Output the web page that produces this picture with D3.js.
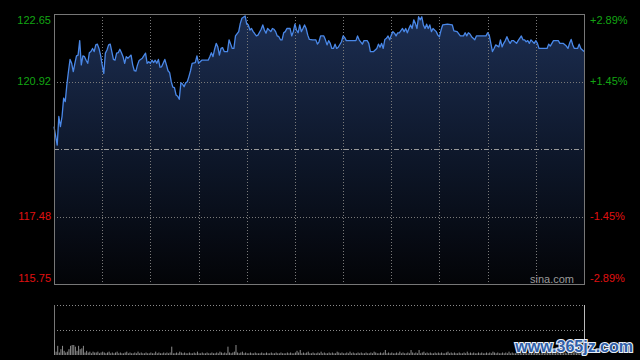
<!DOCTYPE html>
<html><head><meta charset="utf-8">
<script src="https://cdn.jsdelivr.net/npm/d3@7/dist/d3.min.js"></script>
<style>html,body{margin:0;padding:0;background:#000;}svg{display:block;}</style>
</head><body>
<svg id="c" width="640" height="360"></svg>
<script>
// ---- data ----
const prevClose = 119.20;
const priceTicks = [122.65, 120.925, 117.475, 115.75];
const priceTickLabels = ["122.65", "120.92", "117.48", "115.75"];
const pctTickLabels = ["+2.89%", "+1.45%", "-1.45%", "-2.89%"];
const sessionMinutes = 330; // HK trading day, 11 half-hours
const gridMinutes = [30, 60, 90, 120, 150, 180, 210, 240, 270, 300];
// [minute, price]
const ticks = [
[0,119.77],[2,119.30],[3,120.03],[4,119.77],[5,120.03],[6,120.50],[7,120.41],[8,120.84],[9,121.18],[10,121.49],
[11,121.39],[12,121.18],[13,121.39],[14,121.58],[15,121.60],[16,121.97],[17,121.35],[18,121.58],[19,121.56],[20,121.47],
[21,121.39],[22,121.66],[23,121.69],[24,121.77],[25,121.69],[26,121.86],[27,121.88],[28,121.77],[29,121.60],[30,121.35],
[31,121.13],[32,121.65],[33,121.73],[34,121.86],[35,121.88],[36,121.69],[37,121.49],[38,121.47],[39,121.65],[40,121.66],
[41,121.75],[42,121.66],[43,121.56],[44,121.39],[45,121.56],[46,121.52],[47,121.56],[48,121.60],[49,121.35],[50,121.20],
[51,121.19],[52,121.35],[53,121.46],[55,121.52],[57,121.65],
[58,121.39],[59,121.43],[60,121.39],[61,121.47],[62,121.41],[63,121.47],[64,121.39],[65,121.49],[66,121.29],[67,121.30],
[69,121.49],[70,121.35],[71,121.20],[72,121.15],[73,120.92],[74,120.78],[75,120.77],[76,120.58],[77,120.55],[78,120.47],
[79,120.89],[80,120.86],[81,120.79],[82,120.89],[83,120.92],[84,121.05],[85,121.20],[86,121.39],[88,121.41],[89,121.58],
[90,121.39],[92,121.47],[93,121.47],[96,121.47],[97,121.56],[98,121.66],[99,121.56],[100,121.75],[101,121.90],[102,121.81],
[103,121.60],[104,121.77],[105,121.79],[106,121.69],[108,121.69],[109,121.99],[110,121.88],[111,121.77],[112,121.77],[113,122.09],
[115,122.20],[116,122.41],[117,122.54],[119,122.60],[120,122.39],[121,122.37],[122,122.24],[123,122.28],[124,122.20],[126,122.09],
[127,122.11],[129,122.26],[130,122.37],[131,122.24],[132,122.16],[133,122.28],[135,122.20],[136,122.28],[137,122.26],[138,122.20],
[139,122.09],[140,122.07],[141,121.99],[142,121.99],[143,122.17],[144,122.20],[145,122.28],[147,122.28],[148,122.09],[149,122.20],
[150,122.39],[151,122.24],[152,122.17],[153,122.37],[154,122.20],[155,122.28],[156,122.37],[157,122.28],[158,122.11],[159,122.00],
[161,121.99],[163,121.99],[164,121.88],[165,121.94],[166,122.09],[168,122.09],[169,121.99],
[170,121.86],[171,121.97],[172,121.90],[173,121.77],[174,121.77],[175,121.88],[176,121.77],[177,121.80],[179,121.94],[180,122.09],
[181,122.05],[182,121.97],[184,121.97],[188,121.97],[189,122.09],[190,121.99],[192,121.88],[193,121.97],[195,121.97],[196,121.90],
[197,121.69],[199,121.69],[201,121.77],[202,121.88],[203,121.80],[204,121.90],[205,121.77],[206,122.00],[207,122.03],[208,122.09],
[209,121.99],[210,122.11],[211,122.20],[212,122.16],[213,122.09],[214,122.17],[215,122.17],[217,122.28],[218,122.20],[219,122.28],
[220,122.17],[221,122.28],[222,122.37],[223,122.28],[224,122.50],[225,122.41],
[226,122.28],[227,122.58],[228,122.50],[229,122.58],[230,122.37],[231,122.28],[232,122.39],[233,122.28],[234,122.37],[235,122.20],
[236,122.28],[238,122.20],[239,122.11],[240,122.07],[241,122.24],[242,122.37],[245,122.39],[248,122.37],[249,122.22],[251,122.20],
[253,122.09],[255,122.09],[256,122.17],[257,122.09],[258,122.17],[259,122.14],[260,122.07],[262,121.99],[263,122.09],[265,122.09],
[269,122.09],[270,122.17],[271,122.11],[272,121.90],[273,121.69],[274,121.77],[275,121.86],[277,121.81],[278,121.99],[279,121.81],
[280,121.90],[281,121.97],
[282,122.07],[283,121.97],[284,121.90],[285,121.97],[286,121.97],[288,121.90],[289,121.97],[291,122.09],[292,121.99],[293,121.99],
[294,121.94],[295,121.97],[296,121.90],[297,121.99],[299,121.90],[300,121.97],[301,121.90],[302,121.77],[305,121.77],[307,121.77],
[308,121.88],[309,121.83],[310,121.90],[311,121.97],[314,121.97],[315,121.90],[317,121.90],[319,121.83],[320,121.77],[321,121.90],
[322,122.00],[323,121.86],[324,121.77],[326,121.77],[327,121.88],[328,121.77],[329,121.73],[330,121.69]
];
// per-minute volume (arbitrary units)
const volumes = [
18,4,11,3,7,11,5,3,4,7,11,12,12,10,5,11,7,8,11,3,
5,3,4,2,4,3,3,4,2,3,4,3,2,3,4,2,3,2,3,4,
2,3,2,2,3,4,2,3,2,2,3,2,4,2,3,2,2,3,2,2,
3,2,2,4,2,3,2,2,3,2,3,2,3,10,2,2,3,2,4,3,
2,3,2,2,3,2,2,3,2,4,2,2,3,2,2,3,2,2,3,2,
2,3,2,4,3,2,3,2,10,3,2,3,4,12,3,2,3,4,2,3,
2,2,3,2,2,3,2,2,2,3,2,2,3,2,2,3,2,2,3,2,
2,3,2,2,2,3,2,3,2,2,3,5,3,6,2,3,2,3,4,2,
2,3,2,2,3,2,4,2,3,2,2,3,2,3,2,2,4,3,2,3,
2,2,3,2,4,2,3,2,2,3,2,3,2,2,3,2,2,3,2,4,
3,2,2,3,2,3,6,2,3,2,3,2,2,3,2,4,2,3,2,2,
3,2,6,3,2,3,2,6,2,3,4,2,3,2,3,2,2,3,2,3,
2,3,2,2,3,4,2,3,2,3,2,2,3,2,2,3,2,4,2,3,
2,3,2,2,3,2,3,2,2,3,2,3,2,4,3,2,3,2,2,3,
2,3,2,4,2,3,2,2,3,2,3,2,2,3,2,2,3,4,2,3,
2,3,2,2,3,2,3,2,4,2,3,2,2,3,2,3,2,2,3,2,
3,2,2,3,4,2,3,2,3,2,3
];
const volumeMax = 60;

// ---- layout ----
const L = 54, R = 584, T = 14, B = 284;
const VT = 305, VB = 355;
const svg = d3.select("#c");
const font = "'Liberation Sans', Arial, sans-serif";
const green = "#13a513", red = "#e01010";

const x = d3.scaleLinear().domain([0, sessionMinutes]).range([L, R]);
const y = d3.scaleLinear().domain([115.75, 122.65]).range([B, T]);
const yv = d3.scaleLinear().domain([0, volumeMax]).range([VB, VT]);

const defs = svg.append("defs");
const g = defs.append("linearGradient").attr("id","fillg")
  .attr("gradientUnits","userSpaceOnUse").attr("x1",0).attr("x2",0).attr("y1",T).attr("y2",B);
g.append("stop").attr("offset","0%").attr("stop-color","#1c2e52");
g.append("stop").attr("offset","55%").attr("stop-color","#0d1628");
g.append("stop").attr("offset","100%").attr("stop-color","#030407");

// area
svg.append("path").datum(ticks)
  .attr("d", d3.area().x(d=>x(d[0])).y0(y(115.75)).y1(d=>y(d[1])))
  .attr("fill","url(#fillg)");

// grid
const gridG = svg.append("g").attr("stroke","#7a7a7a").attr("stroke-width",1).attr("stroke-dasharray","1,2");
gridG.selectAll("line.v").data(gridMinutes).enter().append("line")
  .attr("x1",d=>Math.round(x(d))+0.5).attr("x2",d=>Math.round(x(d))+0.5).attr("y1",T).attr("y2",B);
gridG.selectAll("line.h").data([priceTicks[1], priceTicks[2]]).enter().append("line")
  .attr("x1",L).attr("x2",R).attr("y1",d=>Math.round(y(d))+0.5).attr("y2",d=>Math.round(y(d))+0.5);
svg.append("line").attr("x1",L).attr("x2",R)
  .attr("y1",Math.round(y(prevClose))+0.5).attr("y2",Math.round(y(prevClose))+0.5)
  .attr("stroke","#9a9a9a").attr("stroke-dasharray","5,2,1,2");

// price line
svg.append("path").datum(ticks)
  .attr("d", d3.line().x(d=>x(d[0])).y(d=>y(d[1])))
  .attr("fill","none").attr("stroke","#4a88e8").attr("stroke-width",1.3).attr("stroke-linejoin","round");

// frame
svg.append("rect").attr("x",L+0.5).attr("y",T+0.5).attr("width",R-L).attr("height",B-T)
  .attr("fill","none").attr("stroke","#777");

// labels
const clampY = v => Math.min(Math.max(y(v), T+6), B-6);
svg.selectAll("text.pl").data(priceTicks).enter().append("text")
  .attr("x",51).attr("y",d=>clampY(d)).attr("dy","0.36em").attr("text-anchor","end")
  .attr("font-family",font).attr("font-size",11)
  .attr("fill",(d,i)=> d>prevClose?green:red).text((d,i)=>priceTickLabels[i]);
svg.selectAll("text.pr").data(priceTicks).enter().append("text")
  .attr("x",590).attr("y",d=>clampY(d)).attr("dy","0.36em").attr("text-anchor","start")
  .attr("font-family",font).attr("font-size",11)
  .attr("fill",(d,i)=> d>prevClose?green:red).text((d,i)=>pctTickLabels[i]);

svg.append("text").attr("x",574).attr("y",283).attr("text-anchor","end")
  .attr("font-family",font).attr("font-size",11).attr("fill","#9a9a9a").text("sina.com");

// volume panel
const vg = svg.append("g");
vg.append("line").attr("x1",L).attr("x2",R).attr("y1",VT+0.5).attr("y2",VT+0.5)
  .attr("stroke","#8a8a8a").attr("stroke-dasharray","1,2");
vg.append("line").attr("x1",L).attr("x2",R).attr("y1",yv(volumeMax/2)+0.5).attr("y2",yv(volumeMax/2)+0.5)
  .attr("stroke","#8a8a8a").attr("stroke-dasharray","1,2");
vg.append("line").attr("x1",L+0.5).attr("x2",L+0.5).attr("y1",VT).attr("y2",VB).attr("stroke","#777");
vg.append("line").attr("x1",R+0.5).attr("x2",R+0.5).attr("y1",VT).attr("y2",VB).attr("stroke","#bbb");
vg.selectAll("rect.vb").data(volumes).enter().append("rect")
  .attr("x",(d,i)=>x(i)).attr("width",1)
  .attr("y",d=>yv(d)).attr("height",d=>VB-yv(d))
  .attr("fill","#8c8c8c");

// watermark
svg.append("text").attr("x",633).attr("y",352).attr("text-anchor","end")
  .attr("font-family",font).attr("font-size",16).attr("font-weight","bold")
  .attr("fill","#2f5fa8").attr("stroke","#e8eef8").attr("stroke-width",2.2)
  .attr("paint-order","stroke").text("www.365jz.com");
</script>
</body></html>
